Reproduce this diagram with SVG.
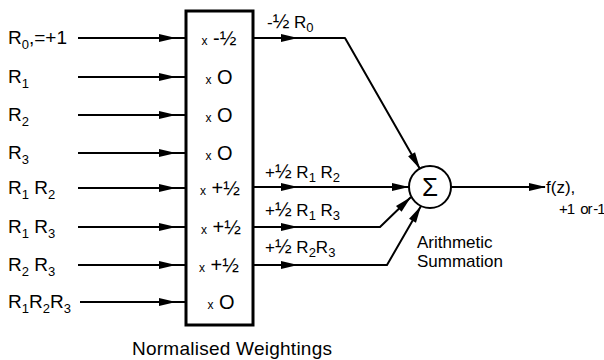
<svg xmlns="http://www.w3.org/2000/svg" xmlns:xlink="http://www.w3.org/1999/xlink" width="604" height="360" viewBox="0 0 604 360">
  <style>
    .bg { fill: #ffffff; }
    .ln { fill: none; stroke: #000; stroke-width: 2; stroke-linejoin: round; }
    .box { fill: #fff; stroke: #000; stroke-width: 3; }
    .ah { fill: #000; }
    text { font-family: "Liberation Sans", Arial, sans-serif; fill: #000; }
    .lab { font-size: 19px; }
    .w { font-size: 20px; }
    .x { font-size: 12px; }
    .sub { font-size: 13px; }
    .out { font-size: 17px; }
    .half { font-size: 20px; }
    .tight { font-size: 15px; letter-spacing: -1px; }
  </style>
  <defs>
    <!-- filled arrowhead, tip at origin, pointing along +x -->
    <path id="ah" d="M0,0 L-17,-4 L-17,4 Z"/>
  </defs>
  <rect class="bg" x="0" y="0" width="604" height="360"/>

  <!-- input labels -->
  <g id="inputs">
    <text class="lab" x="8" y="44">R<tspan class="sub" dy="5">0</tspan><tspan dy="-5">,=+1</tspan></text>
    <text class="lab" x="8" y="83">R<tspan class="sub" dy="5">1</tspan></text>
    <text class="lab" x="8" y="121">R<tspan class="sub" dy="5">2</tspan></text>
    <text class="lab" x="8" y="159">R<tspan class="sub" dy="5">3</tspan></text>
    <text class="lab" x="8" y="194">R<tspan class="sub" dy="5">1</tspan><tspan dy="-5"> R</tspan><tspan class="sub" dy="5">2</tspan></text>
    <text class="lab" x="8" y="233">R<tspan class="sub" dy="5">1</tspan><tspan dy="-5"> R</tspan><tspan class="sub" dy="5">3</tspan></text>
    <text class="lab" x="8" y="271">R<tspan class="sub" dy="5">2</tspan><tspan dy="-5"> R</tspan><tspan class="sub" dy="5">3</tspan></text>
    <text class="lab" x="8" y="308">R<tspan class="sub" dy="5">1</tspan><tspan dy="-5">R</tspan><tspan class="sub" dy="5">2</tspan><tspan dy="-5">R</tspan><tspan class="sub" dy="5">3</tspan></text>
  </g>

  <!-- weighting block -->
  <g id="weights">
    <rect class="box" x="186" y="11" width="67" height="314"/>
    <text x="219" y="45" text-anchor="middle"><tspan class="x">x</tspan><tspan class="w"> -½</tspan></text>
    <text x="219" y="84" text-anchor="middle"><tspan class="x">x</tspan><tspan class="w" font-size="18"> O</tspan></text>
    <text x="219" y="122" text-anchor="middle"><tspan class="x">x</tspan><tspan class="w" font-size="18"> O</tspan></text>
    <text x="219" y="160" text-anchor="middle"><tspan class="x">x</tspan><tspan class="w" font-size="18"> O</tspan></text>
    <text x="220" y="195" text-anchor="middle"><tspan class="x">x</tspan><tspan class="w"> +½</tspan></text>
    <text x="221" y="234" text-anchor="middle"><tspan class="x">x</tspan><tspan class="w"> +½</tspan></text>
    <text x="219" y="272" text-anchor="middle"><tspan class="x">x</tspan><tspan class="w"> +½</tspan></text>
    <text x="221" y="309" text-anchor="middle"><tspan class="x">x</tspan><tspan class="w" font-size="18"> O</tspan></text>
    <text class="lab" x="232" y="355" text-anchor="middle" textLength="200">Normalised Weightings</text>
  </g>

  <!-- summing junction -->
  <g id="sum">
    <circle class="ln" cx="430" cy="187" r="21"/>
    <text x="430" y="196" text-anchor="middle" font-size="26">Σ</text>
    <text class="out" x="417" y="248">Arithmetic</text>
    <text class="out" x="417" y="267">Summation</text>
  </g>

  <!-- result -->
  <g id="result">
    <text class="out" x="546" y="193">f(z),</text>
    <text class="tight" y="214"><tspan x="559">+1</tspan><tspan x="577"> or</tspan><tspan x="590"> -1</tspan></text>
  </g>

  <!-- weighted term labels -->
  <g id="terms">
    <text class="out" x="267" y="28">-<tspan class="half">½</tspan> R<tspan class="sub" dy="4">0</tspan></text>
    <text class="out" x="265" y="178">+<tspan class="half">½</tspan> R<tspan class="sub" dy="4">1</tspan><tspan dy="-4"> R</tspan><tspan class="sub" dy="4">2</tspan></text>
    <text class="out" x="265" y="216">+<tspan class="half">½</tspan> R<tspan class="sub" dy="4">1</tspan><tspan dy="-4"> R</tspan><tspan class="sub" dy="4">3</tspan></text>
    <text class="out" x="265" y="253">+<tspan class="half">½</tspan> R<tspan class="sub" dy="4">2</tspan><tspan dy="-4">R</tspan><tspan class="sub" dy="4">3</tspan></text>
  </g>

  <!-- connectors -->
  <g id="connectors">
    <path class="ln" d="M78,38 H186 M78,77 H186 M78,115 H186 M78,153 H186 M78,188 H186 M78,227 H186 M78,265 H186 M80,302 H186"/>
    <use href="#ah" class="ah" x="176" y="38"/>
    <use href="#ah" class="ah" x="176" y="77"/>
    <use href="#ah" class="ah" x="176" y="115"/>
    <use href="#ah" class="ah" x="176" y="153"/>
    <use href="#ah" class="ah" x="176" y="188"/>
    <use href="#ah" class="ah" x="176" y="227"/>
    <use href="#ah" class="ah" x="176" y="265"/>
    <use href="#ah" class="ah" x="176" y="302"/>

    <path class="ln" d="M253,38 H345 L420,169"/>
    <path class="ln" d="M253,187 H409"/>
    <path class="ln" d="M253,227 H380 L411,197"/>
    <path class="ln" d="M253,265 H387 L421,206"/>
    <path class="ln" d="M451,187 H545"/>

    <use href="#ah" class="ah" x="298" y="38"/>
    <use href="#ah" class="ah" x="298" y="187"/>
    <use href="#ah" class="ah" x="298" y="227"/>
    <use href="#ah" class="ah" x="298" y="265"/>
    <use href="#ah" class="ah" transform="translate(420,169) rotate(60.3)"/>
    <use href="#ah" class="ah" x="409" y="187"/>
    <use href="#ah" class="ah" transform="translate(411,197) rotate(-44)"/>
    <use href="#ah" class="ah" transform="translate(421,206) rotate(-60)"/>
    <use href="#ah" class="ah" x="546" y="187"/>
  </g>
</svg>
